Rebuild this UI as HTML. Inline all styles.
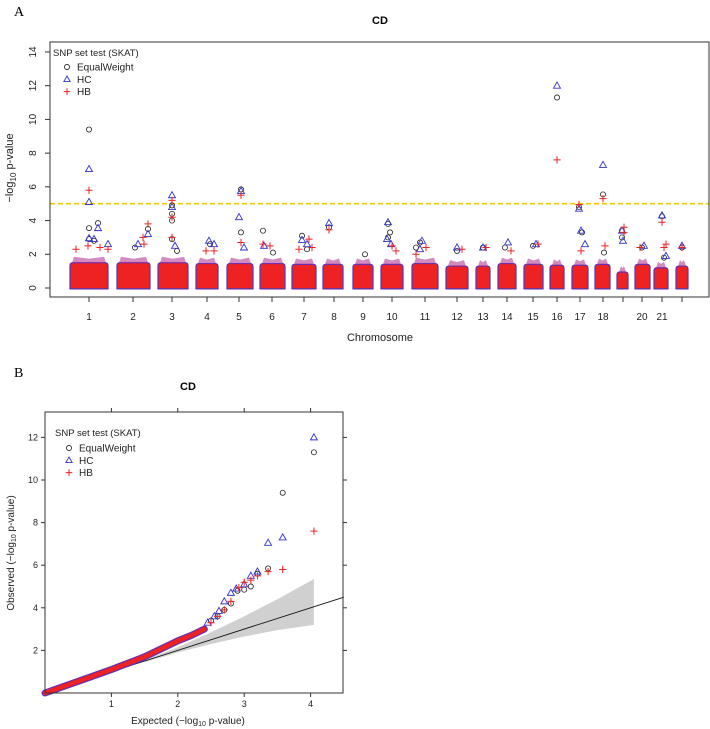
<!DOCTYPE html>
<html><head><meta charset="utf-8">
<style>
body{margin:0;background:#fff;}
svg{display:block;font-family:"Liberation Sans",Arial,sans-serif;}
</style></head>
<body>
<svg id="fig" width="710" height="729" viewBox="0 0 710 729" xmlns="http://www.w3.org/2000/svg">
<text x="14" y="16" font-family="Liberation Serif" font-size="14">A</text>
<text x="14" y="377" font-family="Liberation Serif" font-size="14">B</text>
<g id="manhattan"></g>
<g id="qq"></g>
</svg>
<script>
// ===== Manhattan data =====
const chromLabels = ["1","2","3","4","5","6","7","8","9","10","11","12","13","14","15","16","17","18","","20","21",""];
const chromStart = [20,67,108,146,177,210,242,273,303,331,362,396,426,448,474,500,522,545,567,585,604,626];
const chromEnd   = [58,100,138,168,203,235,266,293,323,353,388,418,440,466,493,514,538,560,578,600,618,638];
const chromTick  = [39,83,122,157,189,222,254,284,313,342,375,407,433,457,483,507,530,553,573,592,612,632];
const bgTop = [1.5,1.5,1.5,1.45,1.45,1.45,1.4,1.4,1.4,1.4,1.45,1.3,1.3,1.45,1.4,1.35,1.35,1.4,0.95,1.4,1.2,1.3];
// upper tail points: [position, value]
const ewPts = [[39,9.4],[39,3.55],[39,2.9],[48,3.85],[44,2.8],[98,3.5],[85,2.4],[122,4.9],[122,4.4],[122,4.0],[122,2.9],[127,2.2],[160,2.6],[191,5.85],[191,3.3],[213,3.4],[223,2.1],[252,3.1],[257,2.3],[279,3.6],[315,2.0],[338,3.8],[338,3.0],[340,3.3],[370,2.7],[366,2.4],[407,2.2],[433,2.4],[455,2.4],[483,2.5],[507,11.3],[529,4.8],[532,3.3],[553,5.55],[554,2.1],[572,3.4],[572,3.0],[592,2.4],[612,4.25],[614,1.8],[632,2.4]];
const hcPts  = [[39,7.05],[39,5.1],[39,2.95],[48,3.55],[44,2.9],[58,2.6],[98,3.2],[88,2.6],[122,5.5],[122,4.8],[125,2.5],[159,2.8],[164,2.6],[189,4.2],[191,5.75],[194,2.4],[214,2.5],[252,2.85],[257,2.6],[279,3.85],[338,3.9],[337,2.9],[341,2.6],[372,2.8],[370,2.3],[407,2.4],[433,2.4],[458,2.7],[486,2.6],[507,12.0],[529,4.7],[531,3.4],[535,2.6],[553,7.3],[572,3.4],[573,2.8],[594,2.5],[612,4.3],[616,1.9],[632,2.5]];
const hbPts  = [[39,5.8],[38,2.5],[26,2.3],[50,2.4],[58,2.3],[93,3.0],[94,2.6],[98,3.8],[122,5.2],[122,4.2],[122,3.0],[156,2.2],[164,2.2],[191,5.5],[191,2.7],[213,2.6],[220,2.5],[249,2.3],[259,2.9],[262,2.4],[279,3.45],[346,2.2],[342,2.5],[376,2.4],[366,2.0],[412,2.3],[436,2.4],[461,2.2],[488,2.6],[507,7.6],[529,4.95],[531,2.2],[553,5.3],[555,2.5],[574,3.6],[574,3.3],[590,2.4],[612,3.9],[614,2.4],[616,2.6],[632,2.4]];
const yTicksM = [0,2,4,6,8,10,12,14];
const threshold = 5;

// ===== QQ data =====
const bulkExp = [0,0.5,1.0,1.5,2.0,2.2,2.4];
const bulkObs = [0,0.55,1.1,1.7,2.45,2.7,3.0];
const qqHCx = [2.45,2.55,2.62,2.7,2.8,2.88,3.0,3.1,3.2,3.36,3.58,4.05];
const qqHCy = [3.3,3.6,3.85,4.3,4.7,4.9,5.1,5.5,5.7,7.05,7.3,12.0];
const qqEWx = [2.5,2.6,2.7,2.8,2.9,3.0,3.1,3.2,3.36,3.58,4.05];
const qqEWy = [3.4,3.6,3.9,4.2,4.8,4.85,5.0,5.6,5.85,9.4,11.3];
const qqHBx = [2.5,2.6,2.7,2.8,2.92,3.0,3.1,3.2,3.36,3.58,4.05];
const qqHBy = [3.3,3.6,3.9,4.3,4.95,5.2,5.3,5.5,5.7,5.8,7.6];
const bandX = [1.5,2.0,2.5,3.0,3.5,4.05];
const bandUp = [1.55,2.15,2.85,3.6,4.4,5.35];
const bandLo = [1.45,1.9,2.3,2.65,2.95,3.2];
const qqXTicks = [1,2,3,4];
const qqYTicks = [2,4,6,8,10,12];

const NS="http://www.w3.org/2000/svg";
function mk(parent,tag,attrs,text){const e=document.createElementNS(NS,tag);for(const k in attrs)e.setAttribute(k,attrs[k]);if(text!==undefined)e.textContent=text;parent.appendChild(e);return e;}
const RED="#ee2222", BLUE="#3333cc";
function marker(g,type,x,y,s){
  if(type==="ew") return mk(g,"circle",{cx:x,cy:y,r:s*0.85,fill:"none",stroke:"#222","stroke-width":0.8});
  if(type==="hc") return mk(g,"path",{d:`M${x},${y-s*1.1}L${x+s*1.05},${y+s*0.75}L${x-s*1.05},${y+s*0.75}Z`,fill:"none",stroke:BLUE,"stroke-width":0.9});
  return mk(g,"path",{d:`M${x-s*1.1},${y}H${x+s*1.1}M${x},${y-s*1.1}V${y+s*1.1}`,stroke:RED,"stroke-width":1});
}

// ===== Manhattan =====
(function(){
  const g=document.getElementById("manhattan");
  const L=50,R=709,T=42,B=297;
  const xs=p=>L+p; const ys=v=>288-v*16.86;
  mk(g,"text",{x:380,y:24,"font-size":11,"font-weight":"bold","text-anchor":"middle"},"CD");
  // blobs
  const bg=mk(g,"g",{});
  
  
  for(let i=0;i<chromStart.length;i++){
    const x0=xs(chromStart[i]),x1=xs(chromEnd[i]),yt=ys(bgTop[i]),yb=ys(-0.05);
    const r=mk(bg,"path",{d:`M${x0},${yb}V${yt+3}Q${x0},${yt} ${x0+3},${yt}H${x1-3}Q${x1},${yt} ${x1},${yt+3}V${yb}Z`,fill:RED,stroke:"#5533bb","stroke-width":1.2});
    
    // ragged upper fringe
    const yf=ys(bgTop[i]+0.35);
    const f=mk(bg,"path",{d:`M${x0+2},${yt}L${x0+4},${yf}L${(x0+x1)/2},${yf+2}L${x1-4},${yf}L${x1-2},${yt}Z`,fill:"#b02a8a",opacity:0.55});
    
  }
  // threshold
  const th=mk(g,"line",{x1:L,x2:R,y1:ys(threshold),y2:ys(threshold),stroke:"#f0c800","stroke-width":1.6,"stroke-dasharray":"5,3"});
  
  
  const pg=mk(g,"g",{});
  
  for(const p of ewPts){const m=marker(pg,"ew",xs(p[0]),ys(p[1]),3);}
  for(const p of hcPts){const m=marker(pg,"hc",xs(p[0]),ys(p[1]),3.3);}
  for(const p of hbPts){const m=marker(pg,"hb",xs(p[0]),ys(p[1]),3.3);}
  // frame
  const fr=mk(g,"rect",{x:L,y:T,width:R-L,height:B-T,fill:"none",stroke:"#333","stroke-width":1});
  
  // y ticks
  for(const v of yTicksM){
    const y=ys(v);
    mk(g,"line",{x1:L-5,x2:L,y1:y,y2:y,stroke:"#333"});
    const t=mk(g,"text",{x:36,y:y,"font-size":10,"text-anchor":"middle",transform:`rotate(-90 36 ${y})`,fill:"#222"},String(v));
    
  }
  // x ticks
  for(let i=0;i<chromTick.length;i++){
    const x=xs(chromTick[i]);
    mk(g,"line",{x1:x,x2:x,y1:B,y2:B+5,stroke:"#333"});
    if(chromLabels[i]){const t=mk(g,"text",{x:x,y:320,"font-size":10,"text-anchor":"middle",fill:"#222"},chromLabels[i]);}
  }
  const xl=mk(g,"text",{x:380,y:341,"font-size":11,"text-anchor":"middle",fill:"#222"},"Chromosome");
  
  const yl=mk(g,"text",{x:0,y:0,"font-size":11,"text-anchor":"middle",fill:"#222",transform:"translate(13,168) rotate(-90)"});
  
  yl.innerHTML='−log<tspan font-size="8" dy="3">10</tspan><tspan dy="-3"> p-value</tspan>';
  // legend
  const lg=mk(g,"g",{});
  
  mk(lg,"text",{x:53,y:56,"font-size":9.5,fill:"#222"},"SNP set test (SKAT)");
  const names=["EqualWeight","HC","HB"],types=["ew","hc","hb"];
  for(let i=0;i<3;i++){const y=67+i*12.3;const m=marker(lg,types[i],67,y,3);const t=mk(lg,"text",{x:77,y:y+3.5,"font-size":10,fill:"#222"},names[i]);}
})();

// ===== QQ =====
(function(){
  const g=document.getElementById("qq");
  const L=45,R=343,T=412,B=693;
  const xs=v=>L+v*66.4; const ys=v=>B-v*21.3;
  mk(g,"text",{x:188,y:390,"font-size":11,"font-weight":"bold","text-anchor":"middle"},"CD");
  // band
  let d="M"+bandX.map((x,i)=>xs(x)+","+ys(bandUp[i])).join("L");
  for(let i=bandX.length-1;i>=0;i--) d+="L"+xs(bandX[i])+","+ys(bandLo[i]);
  const band=mk(g,"path",{d:d+"Z",fill:"#d0d0d0"});
  
  
  const ln=mk(g,"line",{x1:xs(0),y1:ys(0),x2:xs(4.5),y2:ys(4.5),stroke:"#111","stroke-width":0.9});
  
  // bulk
  const bd=bulkExp.map((x,i)=>xs(x)+","+ys(bulkObs[i])).join("L");
  const b1=mk(g,"path",{d:"M"+bd,fill:"none",stroke:"#6a2fb0","stroke-width":7,"stroke-linecap":"round"});
  
  const b2=mk(g,"path",{d:"M"+bd,fill:"none",stroke:RED,"stroke-width":4.5,"stroke-linecap":"round"});
  
  for(let i=0;i<qqEWx.length;i++){const m=marker(g,"ew",xs(qqEWx[i]),ys(qqEWy[i]),3);}
  for(let i=0;i<qqHCx.length;i++){const m=marker(g,"hc",xs(qqHCx[i]),ys(qqHCy[i]),3.3);}
  for(let i=0;i<qqHBx.length;i++){const m=marker(g,"hb",xs(qqHBx[i]),ys(qqHBy[i]),3.3);}
  const fr=mk(g,"rect",{x:L,y:T,width:R-L,height:B-T,fill:"none",stroke:"#333","stroke-width":1});
  
  for(const v of qqXTicks){const x=xs(v);
    mk(g,"line",{x1:x,x2:x,y1:B,y2:B+4,stroke:"#333"});
    mk(g,"line",{x1:x,x2:x,y1:T,y2:T-4,stroke:"#333"});
    const t=mk(g,"text",{x:x,y:707,"font-size":9,"text-anchor":"middle",fill:"#222"},String(v));}
  for(const v of qqYTicks){const y=ys(v);
    mk(g,"line",{x1:L-4,x2:L,y1:y,y2:y,stroke:"#333"});
    mk(g,"line",{x1:R,x2:R+4,y1:y,y2:y,stroke:"#333"});
    const t=mk(g,"text",{x:38,y:y+3,"font-size":9,"text-anchor":"end",fill:"#222"},String(v));}
  const xl=mk(g,"text",{x:188,y:724,"font-size":10,"text-anchor":"middle",fill:"#222"});
  
  xl.innerHTML='Expected (−log<tspan font-size="7" dy="2">10</tspan><tspan dy="-2"> p-value)</tspan>';
  const yl=mk(g,"text",{x:0,y:0,"font-size":10,"text-anchor":"middle",fill:"#222",transform:"translate(14,553) rotate(-90)"});
  
  yl.innerHTML='Observed (−log<tspan font-size="7" dy="2">10</tspan><tspan dy="-2"> p-value)</tspan>';
  const lg=mk(g,"g",{});
  
  mk(lg,"text",{x:55,y:436,"font-size":9.5,fill:"#222"},"SNP set test (SKAT)");
  const names=["EqualWeight","HC","HB"],types=["ew","hc","hb"];
  for(let i=0;i<3;i++){const y=448+i*12.3;const m=marker(lg,types[i],69,y,3);const t=mk(lg,"text",{x:79,y:y+3.5,"font-size":10,fill:"#222"},names[i]);}
})();
</script>
</body></html>
